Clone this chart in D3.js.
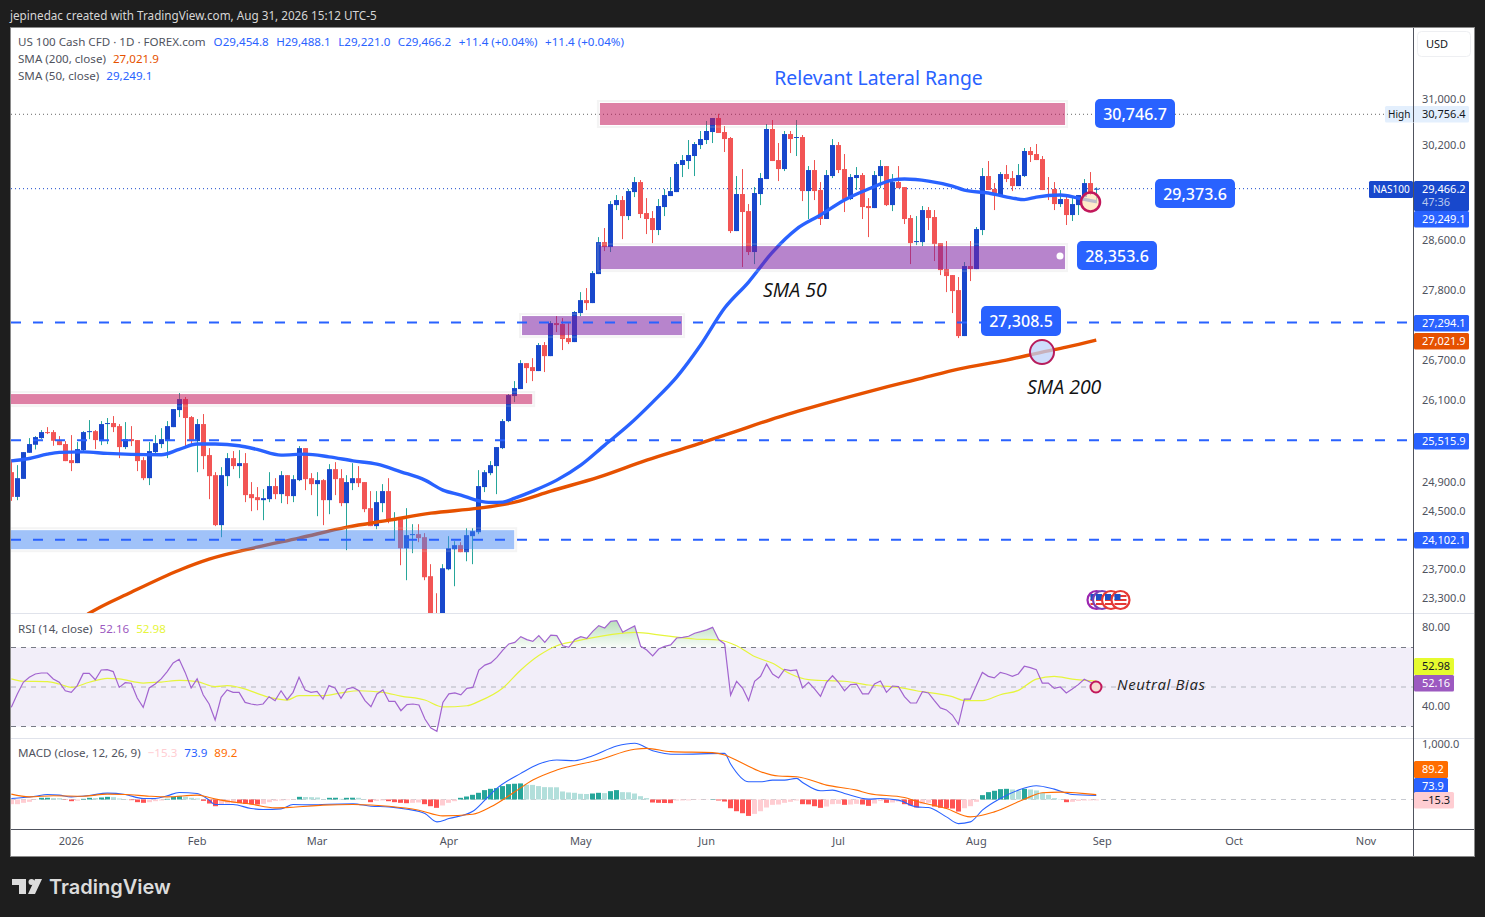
<!DOCTYPE html>
<html>
<head>
<meta charset="utf-8">
<script src="https://cdn.jsdelivr.net/npm/d3@7"></script>
<style>
  html, body { margin: 0; padding: 0; background: #1e1e1e; }
  svg { display: block; }
  text { font-family: "Noto Sans", sans-serif; }
  .axis path, .axis line { display: none; }
  .axis text { fill: #50535e; font-size: 11px; font-family: "Noto Sans", sans-serif; }
</style>
</head>
<body>
<svg id="chart" width="1485" height="917"></svg>
<script>
// daily candles, one per weekday
const opens = [
  25054,24702,24958,25333,25450,25547,25635,25635,25503,25460,
  25227,25184,25372,25635,25649,25503,25753,25768,25723,25416,
  25532,25518,25227,24968,25343,25460,25518,25708,25960,26124,
  25856,25503,25753,25300,25011,24306,24997,25256,25141,25184,
  24741,24698,24656,24670,24855,24741,25011,24713,24940,25401,
  24968,24883,24940,24656,25097,24968,24614,24897,24968,24912,
  24543,24292,24614,24784,24375,24389,23987,24167,24181,24139,
  23606,23018,22757,23700,23973,24029,23933,24153,24208,24841,
  25040,25141,25401,25797,26169,26274,26667,26606,26546,26944,
  26774,27285,27270,27052,26990,27442,27646,27599,28061,28579,
  28498,29191,29275,29008,29409,29578,29058,28975,28777,29158,
  29342,29409,29868,29936,30022,30211,30298,30437,30682,30437,
  30333,28760,29376,29091,28417,29376,29629,30490,29953,29799,
  30402,30333,30350,29426,29782,29443,28959,29680,30211,29799,
  29292,29646,29697,29175,29141,29680,29850,29191,29578,29493,
  28975,28579,28579,29108,28992,28563,28141,28045,27805,27083,
  28190,28141,28777,29680,29460,29359,29714,29646,29510,29680,
  30108,30056,29970,29359,29460,29208,29292,29025,29191,29325,
  29561,29454.8
];
const highs = [
  25237,25155,25343,25547,25576,25664,25708,25664,25576,25503,
  25591,25489,25649,25812,25664,25797,25842,25871,25753,25782,
  25723,25518,25270,25489,25591,25693,25797,25975,26214,26154,
  25871,25827,25901,25401,25054,25126,25329,25358,25372,25329,
  24912,24841,24812,25054,24968,25069,25011,25011,25430,25401,
  25040,25054,24954,25169,25198,25097,25011,25184,25141,24912,
  24784,24784,24883,24968,24487,24403,24543,24319,24319,24195,
  23769,23377,23769,24153,24084,24070,24264,24264,25083,25083,
  25213,25416,25827,26199,26394,26713,26667,26743,26975,26990,
  27316,27395,27363,27285,27473,27773,27837,28109,28661,28810,
  29258,29359,29342,29460,29663,29612,29308,29091,29292,29460,
  29663,29919,30039,30298,30263,30455,30630,30682,30756.4,30542,
  30350,29680,29799,29208,29494,29731,30577,30647,30246,30455,
  30455,30647,30385,29850,29953,29578,29782,30315,30263,30056,
  29714,29833,29731,29308,29765,29953,29850,29714,29850,29493,
  29025,29008,29175,29158,29108,28563,28596,28045,28013,28255,
  28596,28826,29816,29936,29561,29748,29867,29765,29885,30160,
  30177,30229,30022,29663,29578,29443,29359,29342,29359,29629,
  29748,29488.1
];
const lows = [
  24646,24656,24958,25333,25382,25537,25606,25435,25445,25213,
  25069,25184,25333,25532,25387,25445,25460,25635,25256,25387,
  25431,25069,24940,24869,25329,25401,25256,25708,25856,25401,
  25445,25054,25097,24670,24292,24139,24855,25097,24968,24628,
  24501,24515,24375,24628,24670,24614,24600,24628,24926,24798,
  24727,24431,24306,24459,24727,24571,23960,24798,24841,24487,
  24292,24250,24487,24333,24098,23755,23552,23919,24070,23552,
  22757,22630,22690,23687,23471,23933,23809,23769,24181,24770,
  25011,24741,25387,25782,26079,26274,26364,26394,26546,26531,
  26774,27145,26867,26959,26990,27395,27489,27599,28061,28433,
  28417,29108,28628,28942,29325,28975,28711,28563,28694,29008,
  29342,29409,29663,29799,29680,30142,30229,30246,30420,30091,
  28727,28760,28174,28368,28222,29191,29629,29936,29595,29765,
  30073,30022,29258,28959,29275,28860,28959,29646,29731,29075,
  29275,29443,28959,28661,29141,29476,29175,29091,29476,28876,
  28222,28530,28514,28777,28271,28045,27773,27442,27052,27083,
  27949,28141,28694,29443,29108,29342,29578,29426,29510,29663,
  29919,29953,29443,29275,29108,29158,28860,28926,29025,29325,
  29359,29221
];
const closes = [
  24702,24968,25343,25460,25562,25635,25620,25508,25445,25213,
  25184,25387,25635,25649,25518,25753,25768,25708,25416,25532,
  25503,25213,24968,25358,25474,25532,25723,25975,26124,25842,
  25503,25753,25285,24997,24306,25011,25256,25141,25184,24727,
  24684,24656,24684,24855,24741,25011,24713,24954,25401,24954,
  24883,24940,24656,25097,24954,24614,24912,24968,24897,24529,
  24292,24628,24784,24361,24389,23987,24167,24181,24126,23592,
  22950,22757,23714,23987,24029,23933,24167,24222,24855,25054,
  25155,25416,25797,26184,26289,26667,26591,26546,26944,26774,
  27285,27254,27037,26990,27458,27646,27599,28077,28579,28498,
  29208,29275,29008,29426,29578,29042,28959,28777,29175,29359,
  29426,29885,29953,30039,30229,30315,30455,30682,30420,30315,
  28760,29376,29075,28417,29393,29646,30490,29936,29799,30402,
  30315,30350,29426,29782,29426,28959,29697,30211,29782,29292,
  29663,29697,29158,29141,29697,29850,29191,29578,29476,28959,
  28563,28596,29108,28975,28547,28125,28029,27789,27083,28190,
  28141,28793,29680,29443,29359,29714,29629,29510,29697,30108,
  30039,29953,29443,29342,29208,29292,29025,29208,29359,29561,
  29393,29466.2
];

// moving averages, read at these bars
const sma50Bars = [0,3,6,8,12,16,20,25,28,31,34,38,41,45,49,53,57,61,65,69,72,75,78,80,82,84,87,91,95,99,103,107,111,115,119,123,127,131,135,139,143,147,149,153,157,159,163,167,169,171,175,178,181];
const sma50Values = [25217,25251,25314,25339,25347,25324,25310,25304,25382,25460,25460,25435,25382,25300,25314,25275,25217,25169,25059,24940,24798,24727,24646,24624,24628,24684,24784,24940,25155,25445,25738,26079,26454,26944,27520,27933,28417,28793,29025,29275,29460,29612,29629,29595,29510,29443,29393,29308,29283,29325,29359,29308,29249.1];
const sma200Bars = [10,13,20,28,33,41,48,56,63,70,78,84,90,98,106,114,120,128,136,144,152,158,166,172,176,181];
const sma200Values = [22952,23110,23390,23687,23837,24001,24126,24278,24375,24473,24543,24628,24784,24983,25227,25445,25620,25856,26064,26259,26439,26576,26713,26836,26913,27021.9];

// RSI, one value per bar
const rsiValues = [
  39.7,46.5,52.4,54.9,56.6,57.1,57.1,54.1,52.4,48.1,
  47.3,50.7,56.9,56.9,53.7,58.6,58.8,57.8,49.8,52.2,
  51.9,44.4,39.7,49.5,51.5,54.1,57.8,62.2,64,57.4,
  49.5,54.1,46.1,41.4,33.3,44.8,48.5,47.3,47.3,42.2,
  41.4,40.9,41.4,45.1,43.1,48.1,43.6,47.3,54.9,48.5,
  47.3,47.8,43.9,50.7,49.5,44.3,49,49.8,48.1,43.1,
  40,46.5,48.5,42.7,42.7,38,41.1,41.4,40.9,33.8,
  29.2,27.6,42.2,46.5,47,46,49.3,49.8,58.6,61.1,
  62.2,65,68.7,71.8,72.6,75.5,74,73.1,76,72.6,
  76.3,76,70.9,70.1,74,75.5,74.6,78.2,81.1,79.9,
  83.2,83.6,77.7,79.4,80.9,70.6,68.7,65.7,69.2,70.6,
  71.3,74.8,75.1,75.7,77.2,78,78.9,80.2,74,71.8,
  45.9,52.9,49.5,43.1,52.9,55.4,61.6,56.6,54.6,58.9,
  58.3,58.6,49.5,52.4,49,45.3,52.4,55.7,52.4,48.1,
  51.2,51.5,46.5,46.5,51.5,53,47.3,50.5,50.2,45.1,
  41.9,41.9,47.6,47,43.1,39.4,38.4,35.8,31.1,43.9,
  43.9,50.7,57.4,55.4,54.6,57.4,56.6,55.4,56.6,60.5,
  59.8,58.8,52,52,49.3,50,47,49,51.2,53.9,
  52.4,52.16
];
const rsiMaBars = [0,2,6,8,10,13,16,18,22,25,28,31,34,36,38,43,46,48,52,55,58,62,65,69,72,76,78,82,85,88,91,94,100,104,109,114,118,121,124,127,130,133,136,139,143,148,151,157,159,162,165,168,171,174,177,181];
const rsiMaValues = [54.1,52.9,52.7,51.5,49.8,52.4,54.4,54.1,52,52.5,53.4,52.7,50.2,50.7,49.8,44.8,43.4,45.6,45.6,47,48.1,47.3,45.4,43.4,39.9,40.5,42.7,49.5,58.6,65.9,70.9,73.1,76.5,77.7,76,74.3,73.8,70.9,65.4,62,56.6,53.7,53.2,52.9,51,49.8,48.1,45.1,43.1,43.1,46.1,48.3,54,55.4,54,52.98];

// MACD histogram, one value per bar
const macdHist = [
  -86,-86,-61,-43,-6,31,32,25,22,-5,
  -31,-22,12,31,25,37,49,43,18,6,
  -12,-49,-61,-49,-31,-18,12,49,61,49,
  31,18,-25,-74,-123,-86,-74,-61,-68,-80,
  -86,-92,-80,-49,-25,-18,-12,-6,49,46,
  43,37,6,31,32,12,31,33,31,6,
  -49,-25,-18,-31,-49,-61,-68,-61,-55,-86,
  -123,-153,-110,-61,-31,31,55,86,123,172,
  196,209,246,282,289,295,270,268,246,227,
  225,224,147,129,123,104,101,110,123,117,
  153,172,135,132,110,61,25,-55,-61,-64,
  -67,-18,-17,-16,-6,-5,-4,6,-18,-37,
  -160,-215,-252,-301,-264,-215,-147,-98,-92,-61,
  -43,-18,-86,-89,-123,-153,-129,-86,-80,-98,
  -92,-80,-92,-117,-74,-25,-61,-55,-37,-86,
  -110,-147,-86,-61,-129,-153,-160,-166,-221,-160,
  -123,-43,80,135,160,190,196,184,166,196,
  184,166,123,86,25,6,-49,-43,-25,-18,
  -16,-15.3
];
const macdBars = [0,2,4,6,8,10,13,16,19,22,24,26,28,31,33,34,37,40,42,45,47,50,53,57,60,63,66,69,71,73,77,79,81,85,88,91,94,97,101,104,107,111,119,120,123,125,127,129,131,132,135,137,139,143,145,148,151,153,156,158,160,162,165,168,171,174,177,181];
const macdValues = [18,37,61,92,80,49,74,117,92,18,18,68,129,111,-12,-92,-92,-166,-184,-172,-92,-98,-86,-80,-123,-135,-178,-258,-411,-350,-215,-12,203,479,651,725,712,804,982,1032,896,829,847,651,325,325,356,356,387,313,160,172,111,6,18,-12,-135,-147,-319,-442,-411,-196,18,172,252,190,92,73.9];
const signalBars = [0,3,7,12,16,19,23,26,31,33,35,40,44,47,52,57,63,68,72,77,80,84,87,91,98,104,106,110,117,119,122,125,128,131,136,141,143,149,151,156,160,164,169,172,175,181];
const signalValues = [98,49,68,61,98,92,61,49,80,37,-12,-86,-153,-141,-104,-92,-123,-196,-301,-270,-135,141,356,540,725,921,939,878,860,817,663,510,430,418,264,172,111,37,-31,-166,-319,-227,6,123,135,89.2];

// axes
const priceTicks = [31000,30200,28600,27800,26700,26100,24900,24500,23700,23300];
const rsiTicks = [80,40];
const macdTicks = [1000];
const timeBars = [10,31,51,73,95,116,138,161,182,204,226];
const timeLabels = ["2026","Feb","Mar","Apr","May","Jun","Jul","Aug","Sep","Oct","Nov"];

// drawn levels and zones
const levelPrices = [27294.1,25515.9,24102.1];
const zoneStart = [98.2,98.2,85.2,-2,-2];
const zoneEnd = [175.8,175.8,111.9,86.9,83.9];
const zoneTop = [30947,28514,27395,26199,24236];
const zoneBottom = [30560,28141,27098,26049,23974];
const zoneFill = ["rgba(194,24,91,0.55)","rgba(123,31,162,0.55)","rgba(123,31,162,0.55)","rgba(194,24,91,0.55)","rgba(66,133,244,0.5)"];

const svg = d3.select("#chart");
const W = 1485, H = 917;
const plotL = 11, plotR = 1413, mainT = 28, mainB = 613, rsiB = 738, macdB = 829;

const x = d3.scaleLinear().domain([0, 226]).range([11.33, 11.33 + 226 * 5.994]);
const y = d3.scaleLog().domain([23300, 31000]).range([599, 100]);
const yRsi = d3.scaleLinear().domain([30, 70]).range([726.5, 647.5]);
const yMacd = d3.scaleLinear().domain([0, 1000]).range([799.5, 745]);

svg.append("rect").attr("width", W).attr("height", H).attr("fill", "#1e1e1e");
svg.append("rect").attr("x", 10.5).attr("y", 27.5).attr("width", 1464).attr("height", 829)
  .attr("fill", "#fff").attr("stroke", "#8a8a8a");

const defs = svg.append("defs");
function addClip(id, top, bottom) {
  defs.append("clipPath").attr("id", id).append("rect")
    .attr("x", plotL).attr("y", top).attr("width", plotR - plotL).attr("height", bottom - top);
}
addClip("clip-main", mainT, mainB);
addClip("clip-rsi", mainB, rsiB);
addClip("clip-macd", rsiB, macdB);

const grad = defs.append("linearGradient").attr("id", "ob-fill")
  .attr("gradientUnits", "userSpaceOnUse").attr("x1", 0).attr("x2", 0).attr("y1", 620).attr("y2", 648);
grad.append("stop").attr("offset", 0).attr("stop-color", "#4caf50").attr("stop-opacity", 0.4);
grad.append("stop").attr("offset", 1).attr("stop-color", "#4caf50").attr("stop-opacity", 0.03);

// ---- main pane
const main = svg.append("g").attr("clip-path", "url(#clip-main)");
const bars = d3.range(opens.length);

main.append("line").attr("x1", plotL).attr("x2", 1385).attr("y1", y(30756.4) + 0.5).attr("y2", y(30756.4) + 0.5)
  .attr("stroke", "#666").attr("stroke-dasharray", "1 3");
main.append("line").attr("x1", plotL).attr("x2", 1369).attr("y1", y(29466.2)).attr("y2", y(29466.2))
  .attr("stroke", "#1848cc").attr("stroke-dasharray", "1 3");

main.selectAll(".wick").data(bars).enter().append("rect")
  .attr("x", (i) => Math.floor(x(i)))
  .attr("width", 1)
  .attr("y", (i) => y(highs[i]))
  .attr("height", (i) => y(lows[i]) - y(highs[i]))
  .attr("fill", (i) => (closes[i] >= opens[i] ? "#26a69a" : "#ef5350"));

main.selectAll(".body").data(bars).enter().append("rect")
  .attr("x", (i) => Math.floor(x(i)) - 2)
  .attr("width", 5)
  .attr("y", (i) => y(Math.max(opens[i], closes[i])))
  .attr("height", (i) => Math.max(1, Math.abs(y(opens[i]) - y(closes[i]))))
  .attr("fill", (i) => (closes[i] >= opens[i] ? "#1848cc" : "#f25555"));

function maLine(xs, vs, scale, curve) {
  return d3.line()
    .x((d, i) => x(xs[i]))
    .y((d) => scale(d))
    .curve(curve || d3.curveMonotoneX)(vs);
}
main.append("path").attr("d", maLine(sma200Bars, sma200Values, y))
  .attr("fill", "none").attr("stroke", "#e65100").attr("stroke-width", 3.4);
main.append("path").attr("d", maLine(sma50Bars, sma50Values, y))
  .attr("fill", "none").attr("stroke", "#2962ff").attr("stroke-width", 3.4);

const zones = main.append("g");
zoneStart.forEach((s, i) => {
  const rx = x(s), ry = y(zoneTop[i]), rw = x(zoneEnd[i]) - rx, rh = y(zoneBottom[i]) - ry;
  zones.append("rect").attr("x", rx - 2).attr("y", ry - 2).attr("width", rw + 4).attr("height", rh + 4)
    .attr("fill", "none").attr("stroke", "rgba(200,200,200,0.2)").attr("stroke-width", 2);
  zones.append("rect").attr("x", rx).attr("y", ry).attr("width", rw).attr("height", rh)
    .attr("fill", zoneFill[i]);
});

main.selectAll(".level").data(levelPrices).enter().append("line")
  .attr("x1", plotL).attr("x2", plotR)
  .attr("y1", (d) => y(d)).attr("y2", (d) => y(d))
  .attr("stroke", "#2962ff").attr("stroke-width", 2).attr("stroke-dasharray", "10 12");

// marker circles on the averages
main.append("circle").attr("cx", 1042).attr("cy", y(26836)).attr("r", 12)
  .attr("fill", "rgba(190,210,250,0.75)").attr("stroke", "#b71c5c").attr("stroke-width", 2);
main.append("circle").attr("cx", 1090.5).attr("cy", 202).attr("r", 9.5)
  .attr("fill", "rgba(255,226,180,0.7)").attr("stroke", "#c2185b").attr("stroke-width", 2.5);
main.append("circle").attr("cx", 1060).attr("cy", 256).attr("r", 3.5).attr("fill", "#fff");

// earnings / event flags
[1096.5, 1102, 1111, 1120.5].forEach((cx, i) => {
  const g = main.append("g");
  g.append("circle").attr("cx", cx).attr("cy", 600).attr("r", 9)
    .attr("fill", "#fff").attr("stroke", ["#9c27b0", "#7b3fb5", "#e53935", "#e53935"][i]).attr("stroke-width", 2.2);
  [596, 600, 604].forEach((sy) => {
    g.append("rect").attr("x", cx - 6).attr("y", sy - 1).attr("width", 12).attr("height", 2).attr("fill", "#e53935");
  });
  g.append("rect").attr("x", cx - 6).attr("y", 594).attr("width", 6).attr("height", 6).attr("fill", "#1c4fc4");
});

function annotate(tx, ty, str, size, fill, style, anchor) {
  return svg.append("text").attr("x", tx).attr("y", ty).text(str)
    .attr("font-size", size).attr("fill", fill)
    .attr("font-style", style || "normal")
    .attr("text-anchor", anchor || "start")
    .attr("dominant-baseline", "central");
}
annotate(878.5, 77, "Relevant Lateral Range", 19.4, "#2962ff", "normal", "middle");
annotate(763, 289, "SMA 50", 19.5, "#111", "italic").style("font-family", "'Open Sans'");
annotate(1027, 386, "SMA 200", 19.5, "#111", "italic").style("font-family", "'Open Sans'");

function priceBox(bx, by, w, h, str) {
  svg.append("rect").attr("x", bx).attr("y", by).attr("width", w).attr("height", h).attr("rx", 5)
    .attr("fill", "#2962ff");
  annotate(bx + w / 2, by + h / 2, str, 16, "#fff", "normal", "middle").attr("font-weight", 500);
}
priceBox(1095, 99, 80, 29, "30,746.7");
priceBox(1155, 179, 80, 29, "29,373.6");
priceBox(1077, 241, 80, 29, "28,353.6");
priceBox(981, 306, 80, 30, "27,308.5");

// ---- RSI pane
const rsiG = svg.append("g").attr("clip-path", "url(#clip-rsi)");
rsiG.append("rect").attr("x", plotL).attr("width", plotR - plotL)
  .attr("y", yRsi(70)).attr("height", yRsi(30) - yRsi(70))
  .attr("fill", "rgba(126,87,194,0.1)");
[70, 30].forEach((v) => {
  rsiG.append("line").attr("x1", plotL).attr("x2", plotR).attr("y1", yRsi(v)).attr("y2", yRsi(v))
    .attr("stroke", "#787b86").attr("stroke-dasharray", "5 5");
});
rsiG.append("line").attr("x1", plotL).attr("x2", plotR).attr("y1", yRsi(50)).attr("y2", yRsi(50))
  .attr("stroke", "#b2b5be").attr("stroke-dasharray", "5 5");
rsiG.append("path")
  .attr("d", d3.area().x((d, i) => x(i)).y0(yRsi(70)).y1((d) => yRsi(Math.max(d, 70)))(rsiValues))
  .attr("fill", "url(#ob-fill)");
rsiG.append("path").attr("d", maLine(rsiMaBars, rsiMaValues, yRsi))
  .attr("fill", "none").attr("stroke", "#e6f53c").attr("stroke-width", 1.2);
rsiG.append("path").attr("d", d3.line().x((d, i) => x(i)).y((d) => yRsi(d))(rsiValues))
  .attr("fill", "none").attr("stroke", "#a264cf").attr("stroke-width", 1.2);
rsiG.append("circle").attr("cx", 1096).attr("cy", yRsi(50)).attr("r", 5.5)
  .attr("fill", "#f7dcd2").attr("stroke", "#c2185b").attr("stroke-width", 2);
annotate(1117, 684, "Neutral Bias", 15, "#222", "italic").style("font-family", "'Open Sans'").attr("letter-spacing", 0.6);

// ---- MACD pane
const macdG = svg.append("g").attr("clip-path", "url(#clip-macd)");
macdG.append("line").attr("x1", plotL).attr("x2", plotR).attr("y1", yMacd(0)).attr("y2", yMacd(0))
  .attr("stroke", "#c8cad0").attr("stroke-dasharray", "5 5");
function histColor(i) {
  const v = macdHist[i], prev = i > 0 ? macdHist[i - 1] : v;
  if (v >= 0) return v >= prev ? "#26a69a" : "#b2dfdb";
  return v < prev ? "#ff5252" : "#ffcdd2";
}
macdG.selectAll(".hist").data(macdHist).enter().append("rect")
  .attr("x", (d, i) => Math.floor(x(i)) - 2)
  .attr("width", 5)
  .attr("y", (d) => Math.min(yMacd(0), yMacd(d)))
  .attr("height", (d) => Math.abs(yMacd(d) - yMacd(0)))
  .attr("fill", (d, i) => histColor(i));
macdG.append("path").attr("d", maLine(macdBars, macdValues, yMacd))
  .attr("fill", "none").attr("stroke", "#2962ff").attr("stroke-width", 1.1);
macdG.append("path").attr("d", maLine(signalBars, signalValues, yMacd))
  .attr("fill", "none").attr("stroke", "#ff6d00").attr("stroke-width", 1.1);

// ---- frame lines
[mainB, rsiB].forEach((ly) => {
  svg.append("line").attr("x1", plotL).attr("x2", 1474).attr("y1", ly + 0.5).attr("y2", ly + 0.5).attr("stroke", "#e0e3eb");
});
svg.append("line").attr("x1", plotL).attr("x2", 1474).attr("y1", macdB + 0.5).attr("y2", macdB + 0.5).attr("stroke", "#50535e");
svg.append("line").attr("x1", plotR + 0.5).attr("x2", plotR + 0.5).attr("y1", 28).attr("y2", 856).attr("stroke", "#50535e");

// ---- axes
const rightAxis = (scale, ticks, fmt) => d3.axisRight(scale).tickValues(ticks).tickSize(0).tickPadding(8).tickFormat(fmt);
svg.append("g").attr("class", "axis").attr("transform", `translate(${plotR + 1},-0.7)`)
  .call(rightAxis(y, priceTicks, d3.format(",.1f")));
svg.append("g").attr("class", "axis").attr("transform", `translate(${plotR + 1},-0.7)`)
  .call(rightAxis(yRsi, rsiTicks, d3.format(".2f")));
svg.append("g").attr("class", "axis").attr("transform", `translate(${plotR + 1},-0.7)`)
  .call(rightAxis(yMacd, macdTicks, d3.format(",.1f")));
svg.append("g").attr("class", "axis").attr("transform", `translate(-0.5,${macdB + 8})`)
  .call(d3.axisBottom(x).tickValues(timeBars).tickSize(0).tickPadding(0).tickFormat((d, i) => timeLabels[i]));

// axis tags
function tag(tx, ty, w, h, fill, str, color) {
  svg.append("rect").attr("x", tx).attr("y", ty).attr("width", w).attr("height", h).attr("rx", 1.5).attr("fill", fill);
  annotate(tx + 8, ty + h / 2 - 0.8, str, 11, color || "#fff");
}
// high tag
svg.append("rect").attr("x", 1385).attr("y", 106).attr("width", 84).attr("height", 16.5).attr("rx", 1.5).attr("fill", "#e3effd");
annotate(1388, 113.7, "High", 10, "#131722");
annotate(1422, 113.7, "30,756.4", 11, "#131722");
svg.append("line").attr("x1", plotR + 0.5).attr("x2", plotR + 0.5).attr("y1", 106).attr("y2", 122).attr("stroke", "#50535e");

// last price tag
svg.append("rect").attr("x", 1369).attr("y", 181).attr("width", 44).attr("height", 17).attr("rx", 1.5).attr("fill", "#1848cc");
annotate(1373, 189, "NAS100", 10, "#fff");
svg.append("rect").attr("x", 1414).attr("y", 181).attr("width", 55).attr("height", 30).attr("rx", 1.5).attr("fill", "#1848cc");
annotate(1422, 188.3, "29,466.2", 11, "#fff");
annotate(1422, 201.3, "47:36", 11, "#b8c8ee");
tag(1414, 211, 55, 16.5, "#2962ff", "29,249.1");
tag(1414, 315, 55, 16.5, "#2962ff", "27,294.1");
tag(1414, 333, 55, 16.5, "#e65100", "27,021.9");
tag(1414, 433, 55, 16.5, "#2962ff", "25,515.9");
tag(1414, 532, 55, 16.5, "#2962ff", "24,102.1");
tag(1414, 658, 40, 17, "#e6fb2e", "52.98", "#131722");
tag(1414, 675, 40, 16.5, "#9c59c0", "52.16");
tag(1414, 761, 34, 17, "#ff6d00", "89.2");
tag(1414, 778, 34, 16, "#2962ff", "73.9");
tag(1414, 792, 40, 16.5, "#ffcdd2", "\u221215.3", "#131722");

svg.append("rect").attr("x", 1417.5).attr("y", 31.5).attr("width", 53).attr("height", 25).attr("rx", 4)
  .attr("fill", "#fff").attr("stroke", "#eeeff2");
annotate(1426, 43.5, "USD", 11, "#131722");

// ---- legend
function legendLine(ly, parts) {
  const t = svg.append("text").attr("x", 18).attr("y", ly).attr("font-size", 11.6).attr("dominant-baseline", "central");
  parts.forEach((p) => {
    t.append("tspan").attr("fill", p[1]).attr("dx", p[2] || 0).text(p[0]);
  });
}
const legendGrey = "#50535e", legendBlue = "#2962ff";
legendLine(40.5, [
  ["US 100 Cash CFD \u00b7 1D \u00b7 FOREX.com", legendGrey],
  ["O", legendBlue, 8], ["29,454.8", legendBlue],
  ["H", legendBlue, 7.5], ["29,488.1", legendBlue],
  ["L", legendBlue, 7.5], ["29,221.0", legendBlue],
  ["C", legendBlue, 7.5], ["29,466.2", legendBlue],
  ["+11.4 (+0.04%)", legendBlue, 7.5],
  ["+11.4 (+0.04%)", legendBlue, 7.5],
]);
legendLine(58, [["SMA (200, close)", legendGrey], ["27,021.9", "#e65100", 7]]);
legendLine(75, [["SMA (50, close)", legendGrey], ["29,249.1", "#2962ff", 7]]);
legendLine(627.5, [["RSI (14, close)", legendGrey], ["52.16", "#9c59c0", 7], ["52.98", "#e6f53c", 7]]);
legendLine(752, [
  ["MACD (close, 12, 26, 9)", legendGrey],
  ["\u221215.3", "#ffcdd2", 7], ["73.9", "#2962ff", 7], ["89.2", "#ff6d00", 7],
]);

// ---- page chrome
svg.append("text").attr("x", 10).attr("y", 14.5).attr("font-size", 11.7).attr("fill", "#d6d6d6")
  .attr("dominant-baseline", "central").text("jepinedac created with TradingView.com, Aug 31, 2026 15:12 UTC-5");

const logo = svg.append("g").attr("fill", "#dcdcdc");
logo.append("path").attr("d", "M12 879H26V894H19V885H12Z");
logo.append("circle").attr("cx", 31.5).attr("cy", 882).attr("r", 3);
logo.append("path").attr("d", "M35 879H42L35 894H28Z");
svg.append("text").attr("x", 49).attr("y", 894).attr("font-size", 20).attr("font-weight", 600)
  .attr("fill", "#dcdcdc").style("font-family", "Inter").text("TradingView");
</script>
</body>
</html>
